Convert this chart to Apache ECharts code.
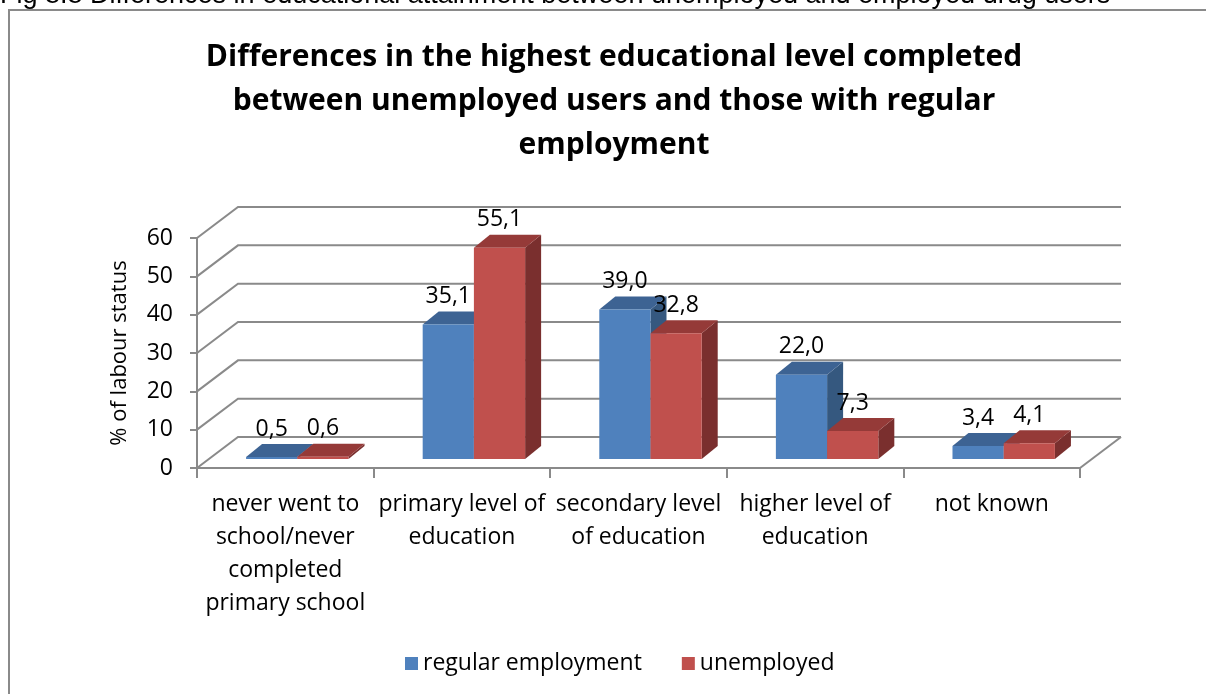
<!DOCTYPE html>
<html>
<head>
<meta charset="utf-8">
<script src="https://cdn.jsdelivr.net/npm/echarts@6/dist/echarts.min.js"></script>
<style>
  html, body { margin: 0; padding: 0; background: #fff; }
  #chart { width: 1206px; height: 694px; }
</style>
</head>
<body>
<div id="chart"></div>
<script>
// Education level categories (line breaks are the wrapped tick labels)
const categories = [
  'never went to\nschool/never\ncompleted\nprimary school',
  'primary level of\neducation',
  'secondary level\nof education',
  'higher level of\neducation',
  'not known'
];
// % of labour status
const regularEmployment = [0.5, 35.1, 39.0, 22.0, 3.4];
const unemployed = [0.6, 55.1, 32.8, 7.3, 4.1];
const yTicks = [0, 10, 20, 30, 40, 50, 60];

const FONT = '"Open Sans", "DejaVu Sans", sans-serif';
const GRID_COLOR = '#8a8a8a';

// Pseudo-3D geometry (pixels)
const WALL_DX = 41, WALL_DY = -31;      // depth of the floor / side wall
const BAR_DX = 12, BAR_DY = -9;         // bar front plane, pushed into the floor
const BAR_DEPTH_X = 16, BAR_DEPTH_Y = -13;
const BAR_FRACTION = 0.29;              // bar width as a share of the category band

const palette = {
  blue: { front: '#4F81BD', top: '#3D6393', side: '#35587F' },
  red:  { front: '#C0504D', top: '#953A38', side: '#7A2F2E' }
};

function fmt(v) { return v.toFixed(1).replace('.', ','); }

function barRenderer(slot, col) {
  return function (params, api) {
    const idx = api.value(0);
    const v = api.value(1);
    const base = api.coord([idx, 0]);
    const top = api.coord([idx, v]);
    const band = api.size([1, 0])[0];
    const w = band * BAR_FRACTION;
    const x0 = base[0] + (slot === 0 ? -w : 0) + BAR_DX;
    const x1 = x0 + w;
    const yb = base[1] + BAR_DY;
    const yt = top[1] + BAR_DY;
    const dx = BAR_DEPTH_X, dy = BAR_DEPTH_Y;
    return {
      type: 'group',
      children: [
        { type: 'polygon', shape: { points: [[x1, yt], [x1 + dx, yt + dy], [x1 + dx, yb + dy], [x1, yb]] },
          style: { fill: col.side } },
        { type: 'polygon', shape: { points: [[x0, yt], [x1, yt], [x1 + dx, yt + dy], [x0 + dx, yt + dy]] },
          style: { fill: col.top } },
        { type: 'rect', shape: { x: x0, y: yt, width: w, height: yb - yt },
          style: { fill: col.front } },
        { type: 'text', x: x0 + w / 2, y: yt - 28,
          style: { text: fmt(v), fill: '#000', font: '23px ' + FONT, align: 'center', verticalAlign: 'middle' } }
      ]
    };
  };
}

// Back wall gridlines, side wall diagonals and floor edge
function wallRenderer(params, api) {
  const v = api.value(1);
  const cs = params.coordSys;
  const y = api.coord([0, v])[1];
  const gx = cs.x, gr = cs.x + cs.width;
  const children = [{
    type: 'polyline',
    shape: { points: [[gx, y], [gx + WALL_DX, y + WALL_DY], [gr + WALL_DX, y + WALL_DY]] },
    style: { stroke: GRID_COLOR, lineWidth: 2, fill: null }
  }];
  if (v === 0) {
    children.push({
      type: 'line',
      shape: { x1: gr, y1: y, x2: gr + WALL_DX, y2: y + WALL_DY },
      style: { stroke: GRID_COLOR, lineWidth: 2 }
    });
  }
  return { type: 'group', children };
}

const chart = echarts.init(document.getElementById('chart'), null, { renderer: 'canvas' });

chart.setOption({
  backgroundColor: '#fff',
  animation: false,
  graphic: [
    { type: 'text', x: 0, y: -18,
      style: { text: 'Fig 8.8 Differences in educational attainment between unemployed and employed drug users',
               font: '27px "Liberation Sans", Arial, sans-serif', fill: '#000' } },
    { type: 'rect', shape: { x: 9, y: 10, width: 1210, height: 700 },
      style: { fill: null, stroke: '#8a8a8a', lineWidth: 2 }, z: 10 },
    { type: 'text', x: 614, y: 35,
      style: { text: 'Differences in the highest educational level completed\nbetween unemployed users and those with regular\nemployment',
               font: 'bold 30px ' + FONT, fill: '#000', align: 'center', lineHeight: 44 } }
  ],
  legend: {
    bottom: 14,
    left: 400,
    icon: 'rect',
    itemWidth: 13,
    itemHeight: 13,
    itemGap: 40,
    textStyle: { fontFamily: FONT, fontSize: 23, color: '#000' },
    data: ['regular employment', 'unemployed']
  },
  grid: { left: 197, right: 126, top: 238, bottom: 226, containLabel: false },
  xAxis: {
    type: 'category',
    data: categories,
    boundaryGap: true,
    axisLine: { lineStyle: { color: GRID_COLOR, width: 2 } },
    axisTick: { show: true, length: 10, lineStyle: { color: GRID_COLOR, width: 2 } },
    axisLabel: { interval: 0, margin: 20, fontFamily: FONT, fontSize: 23, lineHeight: 33, color: '#000' },
    splitLine: { show: false }
  },
  yAxis: {
    type: 'value',
    min: 0, max: 60, interval: 10,
    name: '% of labour status',
    nameLocation: 'middle',
    nameGap: 66,
    nameRotate: 90,
    nameTextStyle: { fontFamily: FONT, fontSize: 22, color: '#000' },
    axisLine: { show: true, lineStyle: { color: GRID_COLOR, width: 2 } },
    axisTick: { show: true, length: 7, lineStyle: { color: GRID_COLOR, width: 2 } },
    axisLabel: { margin: 24, fontFamily: FONT, fontSize: 23, color: '#000' },
    splitLine: { show: false }
  },
  series: [
    { type: 'custom', name: 'wall', renderItem: wallRenderer, z: 1, silent: true,
      data: yTicks.map(v => [0, v]) },
    { type: 'custom', name: 'regular employment', renderItem: barRenderer(0, palette.blue), z: 3,
      itemStyle: { color: palette.blue.front },
      data: regularEmployment.map((v, i) => [i, v]) },
    { type: 'custom', name: 'unemployed', renderItem: barRenderer(1, palette.red), z: 3,
      itemStyle: { color: palette.red.front },
      data: unemployed.map((v, i) => [i, v]) }
  ]
});
</script>
</body>
</html>
